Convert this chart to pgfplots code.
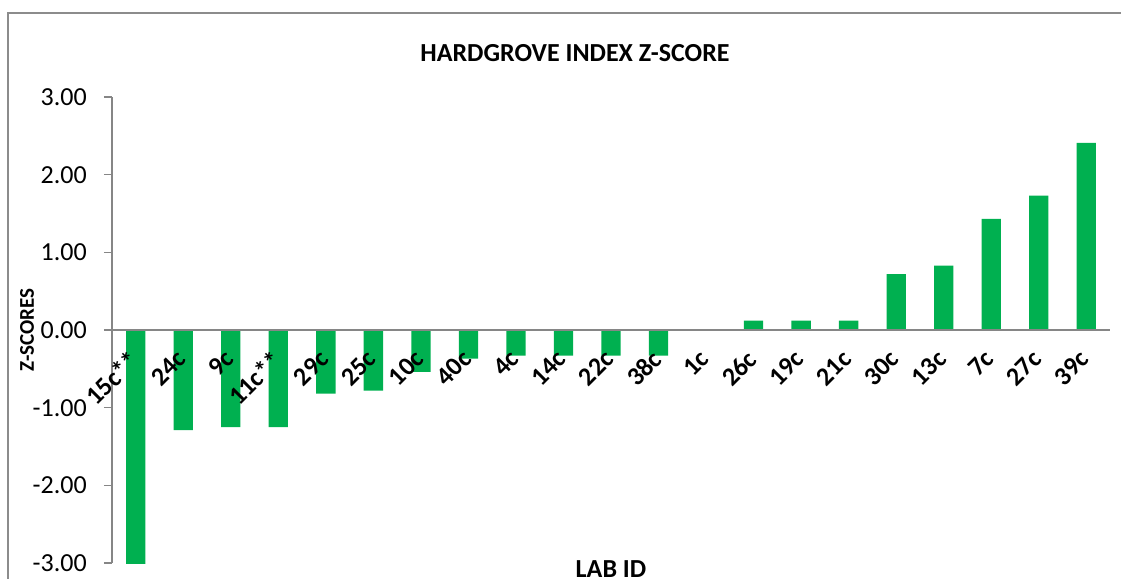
\documentclass[border=0pt]{standalone}
\usepackage{pgfplots}
\pgfplotsset{compat=1.18}
\usepackage{fontspec}
\setmainfont{Carlito}
\definecolor{bargreen}{HTML}{00B050}
\definecolor{axisgray}{HTML}{868686}
\definecolor{framegray}{HTML}{8C8C8C}
\newcommand\chartfont{\fontsize{26}{31}\selectfont}
\begin{document}
\begin{tikzpicture}[x=1pt,y=1pt]
\useasboundingbox (0,0) rectangle (1121,578);
% chart frame (bottom edge is cut off in the reference)
\draw[framegray, line width=1.6pt] (8,-10) -- (8,565) -- (1135,565);
\begin{axis}[
  at={(112pt,15pt)}, anchor=south west,
  scale only axis, width=998pt, height=466pt,
  xmin=-0.5, xmax=20.5, ymin=-3, ymax=3,
  clip=false, axis on top,
  axis x line=middle, axis y line=left,
  axis line style={-, axisgray, line width=1.6pt},
  every inner x axis line/.append style={-},
  ytick={-3,-2,-1,0,1,2,3},
  yticklabels={-3.00,-2.00,-1.00,0.00,1.00,2.00,3.00},
  ytick style={axisgray, line width=1.6pt},
  tick align=outside, major tick length=8pt,
  xtick={0,...,20},
  xtick style={draw=none},
  xticklabels={15c**,24c,9c,11c**,29c,25c,10c,40c,4c,14c,22c,38c,1c,26c,19c,21c,30c,13c,7c,27c,39c},
  xticklabel style={font=\chartfont\bfseries, rotate=45, anchor=north east, inner sep=0pt, xshift=-13pt, yshift=-2pt},
  yticklabel style={font=\chartfont, anchor=east, inner sep=0pt, xshift=-17pt},
  ybar, bar width=19.3pt,
]
\addplot[fill=bargreen, draw=none] coordinates {
  (0,-3.01) (1,-1.29) (2,-1.25) (3,-1.25) (4,-0.82) (5,-0.78) (6,-0.54)
  (7,-0.37) (8,-0.33) (9,-0.33) (10,-0.33) (11,-0.33) (12,0) (13,0.12)
  (14,0.12) (15,0.12) (16,0.72) (17,0.83) (18,1.43) (19,1.73) (20,2.41)
};
\end{axis}
\node[anchor=base, font=\chartfont\bfseries, inner sep=0pt] at (575,516) {HARDGROVE INDEX Z-SCORE};
\node[anchor=base, font=\chartfont\bfseries, inner sep=0pt] at (611,1) {LAB ID};
\node[rotate=90, font=\fontsize{21}{25}\selectfont\bfseries, inner sep=0pt] at (27,248) {Z-SCORES};
\end{tikzpicture}
\end{document}
